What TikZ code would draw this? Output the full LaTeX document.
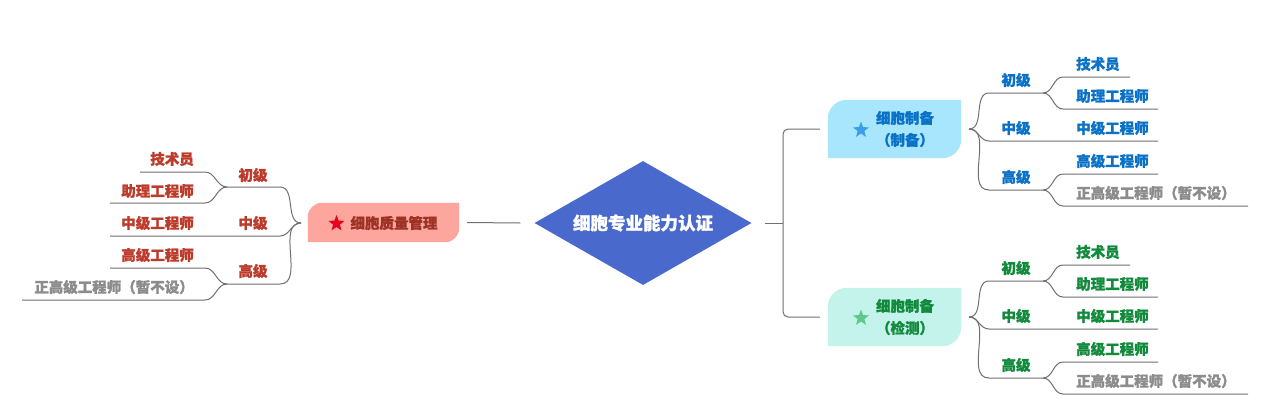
\documentclass[tikz,border=0pt]{standalone}
\usepackage{fontspec}
\setmainfont{Noto Sans CJK SC}[FakeBold=1.2]
\usetikzlibrary{shapes.geometric}
\definecolor{linec}{HTML}{707070}
\definecolor{dia}{HTML}{4A69CD}
\definecolor{bluefill}{HTML}{A8E6FD}
\definecolor{bluetext}{HTML}{0A72C6}
\definecolor{bluestar}{HTML}{3A9EE8}
\definecolor{greenfill}{HTML}{C3F3EA}
\definecolor{greentext}{HTML}{118A3C}
\definecolor{greenstar}{HTML}{5CC98A}
\definecolor{redfill}{HTML}{FCA69E}
\definecolor{redtext}{HTML}{BC3B2B}
\definecolor{redtitle}{HTML}{9E3225}
\definecolor{redstar}{HTML}{E8001C}
\definecolor{greytext}{HTML}{8C8C8C}
\newcommand\labfont{\fontsize{14.5pt}{17pt}\selectfont\bfseries}
\newcommand\tabshape[4]{% node, r, 0.45r, colour
  \fill[#4] (#1.south west) -- ([yshift=-#2]#1.north west)
    .. controls ([yshift=-#3]#1.north west) and ([xshift=#3]#1.north west) .. ([xshift=#2]#1.north west)
    -- (#1.north east) -- ([yshift=#2]#1.south east)
    .. controls ([yshift=#3]#1.south east) and ([xshift=-#3]#1.south east) .. ([xshift=-#2]#1.south east)
    -- cycle;}
\newcommand\rtree[6]{% prefix, y offset, text colour, fill, star colour, sub text
\begin{scope}[shift={(0,#2)}]
  \node[minimum width=133pt,minimum height=58pt,inner sep=0pt] (#1box) at (894.5,129) {};
  \tabshape{#1box}{19pt}{8.5pt}{#4}
  \node[star,star points=5,star point ratio=2.4,fill=#5,minimum size=17pt,inner sep=0pt] (#1star) at (861,130) {};
  \node[lab,align=center,text=#3,font={\fontsize{14.5pt}{22pt}\selectfont\bfseries}] (#1title) at (905,129) {细胞制备\\（#6）};
  \coordinate (#1P) at (969,129);
  \coordinate (#1L1a) at (989,93);  \coordinate (#1L1b) at (1043,93);
  \coordinate (#1L2a) at (989,141); \coordinate (#1L2b) at (1158,141);
  \coordinate (#1L3a) at (989,190); \coordinate (#1L3b) at (1043,190);
  \coordinate (#1A1) at (1063,77);  \coordinate (#1B1) at (1130,77);
  \coordinate (#1A2) at (1063,109); \coordinate (#1B2) at (1158,109);
  \coordinate (#1A4) at (1063,174); \coordinate (#1B4) at (1158,174);
  \coordinate (#1A5) at (1063,206); \coordinate (#1B5) at (1248,206);
  \draw[conn] (#1P) to[out=0,in=180] (#1L1a) -- (#1L1b);
  \draw[conn] (#1P) to[out=0,in=180] (#1L2a) -- (#1L2b);
  \draw[conn] (#1P) to[out=0,in=180] (#1L3a) -- (#1L3b);
  \draw[conn] (#1L1b) to[out=0,in=180] (#1A1) -- (#1B1);
  \draw[conn] (#1L1b) to[out=0,in=180] (#1A2) -- (#1B2);
  \draw[conn] (#1L3b) to[out=0,in=180] (#1A4) -- (#1B4);
  \draw[conn] (#1L3b) to[out=0,in=180] (#1A5) -- (#1B5);
  \node[lab,text=#3] (#1lv1) at (1016,80) {初级};
  \node[lab,text=#3] (#1lv2) at (1016,128) {中级};
  \node[lab,text=#3] (#1lv3) at (1016,177) {高级};
  \node[lab,text=#3,anchor=west] (#1lf1) at (1076,64) {技术员};
  \node[lab,text=#3,anchor=west] (#1lf2) at (1076,96) {助理工程师};
  \node[lab,text=#3,anchor=west] (#1lf3) at (1076,128) {中级工程师};
  \node[lab,text=#3,anchor=west] (#1lf4) at (1076,161) {高级工程师};
  \node[lab,text=greytext,anchor=west] (#1lf5) at (1076,193) {正高级工程师（暂不设）};
\end{scope}}
\begin{document}
\begin{tikzpicture}[x=1pt,y=-1pt,
  conn/.style={draw=linec,line width=1pt},
  lab/.style={inner sep=0pt,font=\labfont}]
\useasboundingbox (0,0) rectangle (1269,416);
\fill[white] (0,0) rectangle (1269,416);

% root
\node[diamond,fill=dia,minimum width=217pt,minimum height=124pt,aspect=1.75,inner sep=0pt,
  text=white,font={\fontsize{17.5pt}{20pt}\selectfont\bfseries}] (root) at (643,223) {细胞专业能力认证};

% left main node
\node[minimum width=151pt,minimum height=39pt,inner sep=0pt] (qm) at (383.5,222.5) {};
\tabshape{qm}{14pt}{6.3pt}{redfill}
\node[star,star points=5,star point ratio=2.4,fill=redstar,minimum size=17pt,inner sep=0pt] (qmstar) at (336.5,223.5) {};
\node[lab,text=redtitle] (qmtitle) at (394,223) {细胞质量管理};
\draw[conn] ([xshift=8pt]qm.east) -- ([xshift=-14pt]root.west);

% right trees
\rtree{p}{0}{bluetext}{bluefill}{bluestar}{制备}
\rtree{t}{188}{greentext}{greenfill}{greenstar}{检测}

% trunk
\coordinate (rj) at (783,223);
\draw[conn] ([xshift=13pt]root.east) -- (rj);
\draw[conn,rounded corners=5pt] ([xshift=-8pt]pbox.west) -| (rj) |- ([xshift=-8pt]tbox.west);

% left tree
\coordinate (lP) at (301,223);
\coordinate (l1a) at (227,187); \coordinate (l1b) at (280,187);
\coordinate (l2a) at (110,236); \coordinate (l2b) at (280,236);
\coordinate (l3a) at (227,284); \coordinate (l3b) at (280,284);
\coordinate (lA1) at (140,172); \coordinate (lB1) at (205,172);
\coordinate (lA2) at (110,203); \coordinate (lB2) at (205,203);
\coordinate (lA4) at (110,268); \coordinate (lB4) at (205,268);
\coordinate (lA5) at (22,300);  \coordinate (lB5) at (205,300);
\draw[conn] (lP) to[out=180,in=0] (l1b) -- (l1a);
\draw[conn] (lP) to[out=180,in=0] (l2b) -- (l2a);
\draw[conn] (lP) to[out=180,in=0] (l3b) -- (l3a);
\draw[conn] (l1a) to[out=180,in=0] (lB1) -- (lA1);
\draw[conn] (l1a) to[out=180,in=0] (lB2) -- (lA2);
\draw[conn] (l3a) to[out=180,in=0] (lB4) -- (lA4);
\draw[conn] (l3a) to[out=180,in=0] (lB5) -- (lA5);
\node[lab,text=redtext] (llv1) at (253,175) {初级};
\node[lab,text=redtext] (llv2) at (253,223) {中级};
\node[lab,text=redtext] (llv3) at (253,271) {高级};
\node[lab,text=redtext,anchor=east] (llf1) at (194,159) {技术员};
\node[lab,text=redtext,anchor=east] (llf2) at (194,191) {助理工程师};
\node[lab,text=redtext,anchor=east] (llf3) at (194,223) {中级工程师};
\node[lab,text=redtext,anchor=east] (llf4) at (194,255) {高级工程师};
\node[lab,text=greytext,anchor=east] (llf5) at (194,287) {正高级工程师（暂不设）};
\end{tikzpicture}
\end{document}
